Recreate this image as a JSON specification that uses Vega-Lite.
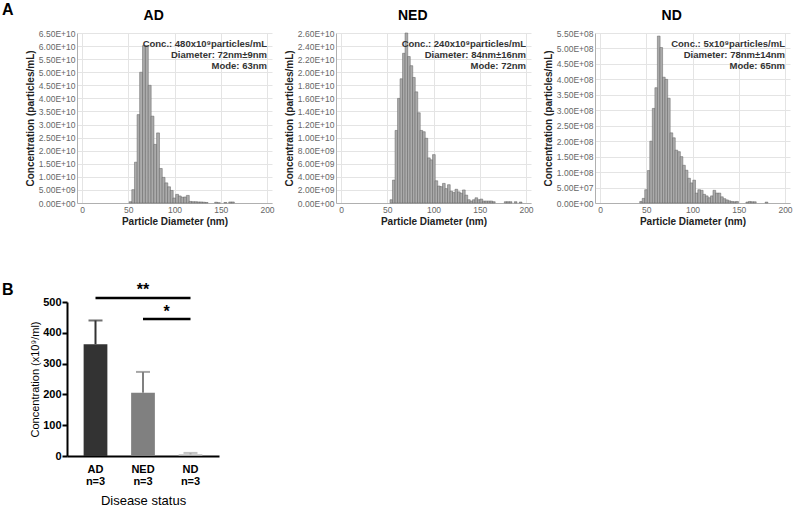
{
 "$schema": "https://vega.github.io/schema/vega-lite/v6.json",
 "background": "white",
 "padding": {"left": 2, "top": 2, "right": 2, "bottom": 2},
 "config": {
  "font": "Liberation Sans",
  "view": {"stroke": null},
  "axis": {"labelFont": "Liberation Sans", "titleFont": "Liberation Sans", "labelFontSize": 8.5, "labelColor": "#666666", "titleFontSize": 10, "titleFontWeight": "bold", "titleColor": "#222222", "grid": true, "gridColor": "#e4e4e4", "domainColor": "#b0b0b0", "ticks": false, "labelPadding": 2, "titlePadding": 3, "labelOverlap": false},
  "title": {"font": "Liberation Sans"}
 },
 "spacing": 54,
 "vconcat": [
  {
   "bounds": "flush",
   "spacing": 9,
   "hconcat": [
    {
     "width": 1, "height": 170,
     "title": {"text": "A", "anchor": "start", "frame": "group", "dx": -65, "offset": 15, "fontSize": 16, "fontWeight": "bold"},
     "data": {"values": []},
     "mark": "point"
    },
    {
     "bounds": "flush",
     "spacing": 64,
     "hconcat": [
      {
       "width": 195, "height": 170,
       "title": {"text": "AD", "fontSize": 14, "fontWeight": "bold", "frame": "bounds", "anchor": "middle", "offset": 6, "dx": 4},
       "layer": [
        {
         "data": {"values": [
          {"d": 52.6, "c": 0.5e9}, {"d": 55.4, "c": 5.1e9}, {"d": 58.3, "c": 15.6e9}, {"d": 61.1, "c": 33.8e9},
          {"d": 63.9, "c": 50.0e9}, {"d": 67.0, "c": 60.2e9}, {"d": 70.1, "c": 60.2e9}, {"d": 73.2, "c": 45.0e9},
          {"d": 76.2, "c": 33.2e9}, {"d": 79.2, "c": 22.4e9}, {"d": 82.2, "c": 26.8e9}, {"d": 85.2, "c": 13.2e9},
          {"d": 88.2, "c": 9.8e9}, {"d": 91.2, "c": 7.7e9}, {"d": 94.1, "c": 6.2e9}, {"d": 97.0, "c": 4.8e9},
          {"d": 99.9, "c": 1.9e9}, {"d": 102.8, "c": 3.3e9}, {"d": 105.7, "c": 2.7e9}, {"d": 108.6, "c": 2.2e9},
          {"d": 111.5, "c": 2.3e9}, {"d": 114.4, "c": 2.9e9}, {"d": 117.3, "c": 0.6e9}, {"d": 120.2, "c": 0.5e9},
          {"d": 123.1, "c": 0.5e9}, {"d": 126.0, "c": 0.4e9}, {"d": 128.9, "c": 0.4e9}, {"d": 131.8, "c": 0.3e9},
          {"d": 134.7, "c": 0.2e9}, {"d": 145.0, "c": 0.3e9}, {"d": 148.0, "c": 0.1e9}, {"d": 155.0, "c": 0.2e9},
          {"d": 160.2, "c": 0.4e9}, {"d": 163.1, "c": 0.4e9}
         ]},
         "mark": {"type": "bar", "width": 2.9, "fill": "#ababab", "stroke": "#606060", "strokeWidth": 0.5},
         "encoding": {
          "x": {"field": "d", "type": "quantitative", "scale": {"domain": [0, 200], "nice": false}, "axis": {"values": [0, 50, 100, 150, 200], "tickCount": 30}, "title": "Particle Diameter (nm)"},
          "y": {"field": "c", "type": "quantitative", "scale": {"domain": [0, 6.5e10], "nice": false},
                "axis": {"values": [0, 5e9, 1e10, 1.5e10, 2e10, 2.5e10, 3e10, 3.5e10, 4e10, 4.5e10, 5e10, 5.5e10, 6e10, 6.5e10], "tickCount": 30,
                         "labelExpr": "replace(upper(format(datum.value, '.2e')), /E\\+(\\d)$/, 'E+0$1')"},
                "title": "Concentration (particles/mL)"}
         }
        },
        {
         "data": {"values": [
          {"t": "Conc.: 480x10⁹particles/mL", "d": 200, "c": 6.08e10},
          {"t": "Diameter: 72nm±9nm", "d": 200, "c": 5.66e10},
          {"t": "Mode: 63nm", "d": 200, "c": 5.24e10}
         ]},
         "mark": {"type": "text", "align": "right", "baseline": "middle", "fontSize": 9.5, "fontWeight": "bold", "color": "#333333"},
         "encoding": {"x": {"field": "d", "type": "quantitative"}, "y": {"field": "c", "type": "quantitative"}, "text": {"field": "t"}}
        }
       ]
      },
      {
       "width": 195, "height": 170,
       "title": {"text": "NED", "fontSize": 14, "fontWeight": "bold", "frame": "bounds", "anchor": "middle", "offset": 6, "dx": 4},
       "layer": [
        {
         "data": {"values": [
          {"d": 54.4, "c": 0.5e9}, {"d": 57.1, "c": 3.5e9}, {"d": 59.9, "c": 11.1e9}, {"d": 62.6, "c": 16.0e9},
          {"d": 65.3, "c": 19.0e9}, {"d": 68.0, "c": 22.9e9}, {"d": 70.7, "c": 26.0e9}, {"d": 73.4, "c": 22.4e9},
          {"d": 76.1, "c": 21.0e9}, {"d": 78.8, "c": 19.2e9}, {"d": 81.5, "c": 17.0e9}, {"d": 84.2, "c": 13.8e9},
          {"d": 86.9, "c": 11.1e9}, {"d": 89.6, "c": 10.9e9}, {"d": 92.3, "c": 9.9e9}, {"d": 95.0, "c": 6.9e9},
          {"d": 97.7, "c": 6.6e9}, {"d": 100.4, "c": 7.4e9}, {"d": 103.1, "c": 3.4e9}, {"d": 105.8, "c": 2.6e9},
          {"d": 108.5, "c": 2.5e9}, {"d": 111.2, "c": 3.0e9}, {"d": 113.9, "c": 2.2e9}, {"d": 116.6, "c": 2.8e9},
          {"d": 119.3, "c": 1.8e9}, {"d": 122.0, "c": 1.6e9}, {"d": 124.7, "c": 2.1e9}, {"d": 127.4, "c": 1.7e9},
          {"d": 130.1, "c": 1.5e9}, {"d": 132.8, "c": 2.0e9}, {"d": 135.5, "c": 1.2e9}, {"d": 138.2, "c": 0.5e9},
          {"d": 140.9, "c": 0.3e9}, {"d": 143.6, "c": 0.5e9}, {"d": 146.3, "c": 0.8e9}, {"d": 149.0, "c": 0.5e9},
          {"d": 151.7, "c": 0.6e9}, {"d": 154.4, "c": 0.3e9}, {"d": 157.1, "c": 0.3e9}, {"d": 159.8, "c": 0.3e9},
          {"d": 162.5, "c": 0.3e9}, {"d": 165.2, "c": 0.2e9}, {"d": 178.0, "c": 0.2e9}, {"d": 180.7, "c": 0.2e9},
          {"d": 183.4, "c": 0.2e9}, {"d": 188.8, "c": 0.2e9}, {"d": 194.2, "c": 0.15e9}
         ]},
         "mark": {"type": "bar", "width": 2.7, "fill": "#ababab", "stroke": "#606060", "strokeWidth": 0.5},
         "encoding": {
          "x": {"field": "d", "type": "quantitative", "scale": {"domain": [0, 200], "nice": false}, "axis": {"values": [0, 50, 100, 150, 200], "tickCount": 30}, "title": "Particle Diameter (nm)"},
          "y": {"field": "c", "type": "quantitative", "scale": {"domain": [0, 2.6e10], "nice": false},
                "axis": {"values": [0, 2e9, 4e9, 6e9, 8e9, 1e10, 1.2e10, 1.4e10, 1.6e10, 1.8e10, 2e10, 2.2e10, 2.4e10, 2.6e10], "tickCount": 30,
                         "labelExpr": "replace(upper(format(datum.value, '.2e')), /E\\+(\\d)$/, 'E+0$1')"},
                "title": "Concentration (particles/mL)"}
         }
        },
        {
         "data": {"values": [
          {"t": "Conc.: 240x10⁹particles/mL", "d": 200, "c": 2.43e10},
          {"t": "Diameter: 84nm±16nm", "d": 200, "c": 2.265e10},
          {"t": "Mode: 72nm", "d": 200, "c": 2.096e10}
         ]},
         "mark": {"type": "text", "align": "right", "baseline": "middle", "fontSize": 9.5, "fontWeight": "bold", "color": "#333333"},
         "encoding": {"x": {"field": "d", "type": "quantitative"}, "y": {"field": "c", "type": "quantitative"}, "text": {"field": "t"}}
        }
       ]
      },
      {
       "width": 195, "height": 170,
       "title": {"text": "ND", "fontSize": 14, "fontWeight": "bold", "frame": "bounds", "anchor": "middle", "offset": 6, "dx": 4},
       "layer": [
        {
         "data": {"values": [
          {"d": 44.4, "c": 0.05e8}, {"d": 47.1, "c": 0.15e8}, {"d": 49.8, "c": 0.43e8}, {"d": 52.6, "c": 1.05e8},
          {"d": 55.3, "c": 2.0e8}, {"d": 58.0, "c": 3.06e8}, {"d": 60.8, "c": 3.73e8}, {"d": 63.5, "c": 5.4e8},
          {"d": 66.2, "c": 5.03e8}, {"d": 69.0, "c": 4.07e8}, {"d": 71.7, "c": 4.0e8}, {"d": 74.4, "c": 3.39e8},
          {"d": 77.2, "c": 2.27e8}, {"d": 79.9, "c": 2.11e8}, {"d": 82.6, "c": 1.71e8}, {"d": 85.4, "c": 1.66e8},
          {"d": 88.1, "c": 1.5e8}, {"d": 90.8, "c": 1.22e8}, {"d": 93.6, "c": 1.06e8}, {"d": 96.3, "c": 0.8e8},
          {"d": 99.0, "c": 0.65e8}, {"d": 101.8, "c": 0.74e8}, {"d": 104.5, "c": 0.32e8}, {"d": 107.2, "c": 0.43e8},
          {"d": 110.0, "c": 0.41e8}, {"d": 112.7, "c": 0.28e8}, {"d": 115.4, "c": 0.23e8}, {"d": 118.2, "c": 0.17e8},
          {"d": 120.9, "c": 0.23e8}, {"d": 123.6, "c": 0.41e8}, {"d": 126.4, "c": 0.32e8}, {"d": 129.1, "c": 0.32e8},
          {"d": 131.8, "c": 0.2e8}, {"d": 134.6, "c": 0.14e8}, {"d": 137.3, "c": 0.1e8}, {"d": 140.0, "c": 0.07e8},
          {"d": 142.8, "c": 0.05e8}, {"d": 145.5, "c": 0.04e8}, {"d": 148.2, "c": 0.05e8}, {"d": 159.2, "c": 0.03e8},
          {"d": 161.9, "c": 0.05e8}, {"d": 164.6, "c": 0.04e8}, {"d": 167.4, "c": 0.04e8}, {"d": 180.0, "c": 0.03e8}
         ]},
         "mark": {"type": "bar", "width": 2.7, "fill": "#ababab", "stroke": "#606060", "strokeWidth": 0.5},
         "encoding": {
          "x": {"field": "d", "type": "quantitative", "scale": {"domain": [0, 200], "nice": false}, "axis": {"values": [0, 50, 100, 150, 200], "tickCount": 30}, "title": "Particle Diameter (nm)"},
          "y": {"field": "c", "type": "quantitative", "scale": {"domain": [0, 5.5e8], "nice": false},
                "axis": {"values": [0, 5e7, 1e8, 1.5e8, 2e8, 2.5e8, 3e8, 3.5e8, 4e8, 4.5e8, 5e8, 5.5e8], "tickCount": 30,
                         "labelExpr": "replace(upper(format(datum.value, '.2e')), /E\\+(\\d)$/, 'E+0$1')"},
                "title": "Concentration (particles/mL)"}
         }
        },
        {
         "data": {"values": [
          {"t": "Conc.: 5x10⁹particles/mL", "d": 200, "c": 5.14e8},
          {"t": "Diameter: 78nm±14nm", "d": 200, "c": 4.79e8},
          {"t": "Mode: 65nm", "d": 200, "c": 4.43e8}
         ]},
         "mark": {"type": "text", "align": "right", "baseline": "middle", "fontSize": 9.5, "fontWeight": "bold", "color": "#333333"},
         "encoding": {"x": {"field": "d", "type": "quantitative"}, "y": {"field": "c", "type": "quantitative"}, "text": {"field": "t"}}
        }
       ]
      }
     ]
    }
   ]
  },
  {
   "width": 152, "height": 154,
   "title": {"text": "B", "anchor": "start", "frame": "group", "dx": -65, "dy": 20, "offset": 4, "fontSize": 16, "fontWeight": "bold"},
   "layer": [
    {
     "data": {"values": [{"g": "AD", "mean": 363, "up": 440}, {"g": "NED", "mean": 205, "up": 273}, {"g": "ND", "mean": 5, "up": 10}]},
     "layer": [
      {
       "mark": {"type": "bar"},
       "encoding": {
        "x": {"field": "g", "type": "nominal", "title": "Disease status",
              "scale": {"domain": ["AD", "NED", "ND"], "paddingInner": 0.5, "paddingOuter": 0.35},
              "axis": {"grid": false, "domainColor": "black", "domainWidth": 2, "ticks": false, "labelAngle": 0, "labelFontSize": 11, "labelFontWeight": "bold", "labelColor": "black", "labelExpr": "[datum.label, 'n=3']", "labelPadding": 7, "labelLineHeight": 12, "titleFontSize": 13, "titleFontWeight": "normal", "titleColor": "black", "titlePadding": 8}},
        "y": {"field": "mean", "type": "quantitative", "title": "Concentration (x10⁹/ml)",
              "scale": {"domain": [0, 500], "nice": false},
              "axis": {"values": [0, 100, 200, 300, 400, 500], "tickCount": 30, "grid": false, "domainColor": "black", "domainWidth": 2, "ticks": true, "tickSize": 5, "tickWidth": 2, "tickColor": "black", "labelFontSize": 11, "labelFontWeight": "bold", "labelColor": "black", "labelPadding": 1, "titleFontSize": 11, "titleFontWeight": "normal", "titleColor": "black", "titlePadding": 2}},
        "color": {"field": "g", "type": "nominal", "scale": {"domain": ["AD", "NED", "ND"], "range": ["#333333", "#808080", "#a8a8a8"]}, "legend": null}
       }
      },
      {
       "mark": {"type": "rule", "strokeWidth": 2},
       "encoding": {
        "x": {"field": "g", "type": "nominal", "title": "Disease status"},
        "y": {"field": "mean", "type": "quantitative", "title": "Concentration (x10⁹/ml)"},
        "y2": {"field": "up"},
        "color": {"field": "g", "type": "nominal", "legend": null}
       }
      },
      {
       "mark": {"type": "tick", "thickness": 2, "size": 14, "orient": "horizontal"},
       "encoding": {
        "x": {"field": "g", "type": "nominal", "title": "Disease status"},
        "y": {"field": "up", "type": "quantitative", "title": "Concentration (x10⁹/ml)"},
        "color": {"field": "g", "type": "nominal", "legend": null}
       }
      }
     ]
    },
    {
     "data": {"values": [{"from": "AD", "to": "ND", "y": 513}, {"from": "NED", "to": "ND", "y": 445}]},
     "mark": {"type": "rule", "strokeWidth": 2.5, "color": "black"},
     "encoding": {
      "x": {"field": "from", "type": "nominal", "title": "Disease status"},
      "x2": {"field": "to"},
      "y": {"field": "y", "type": "quantitative", "title": "Concentration (x10⁹/ml)"}
     }
    },
    {
     "data": {"values": [{"at": "NED", "y": 523, "label": "**"}]},
     "mark": {"type": "text", "fontSize": 16, "fontWeight": "bold", "baseline": "alphabetic", "color": "black"},
     "encoding": {
      "x": {"field": "at", "type": "nominal", "title": "Disease status"},
      "y": {"field": "y", "type": "quantitative", "title": "Concentration (x10⁹/ml)"},
      "text": {"field": "label"}
     }
    },
    {
     "data": {"values": [{"at": "ND", "y": 452, "label": "*"}]},
     "mark": {"type": "text", "fontSize": 16, "fontWeight": "bold", "baseline": "alphabetic", "color": "black", "dx": -24},
     "encoding": {
      "x": {"field": "at", "type": "nominal", "title": "Disease status"},
      "y": {"field": "y", "type": "quantitative", "title": "Concentration (x10⁹/ml)"},
      "text": {"field": "label"}
     }
    }
   ]
  }
 ]
}
